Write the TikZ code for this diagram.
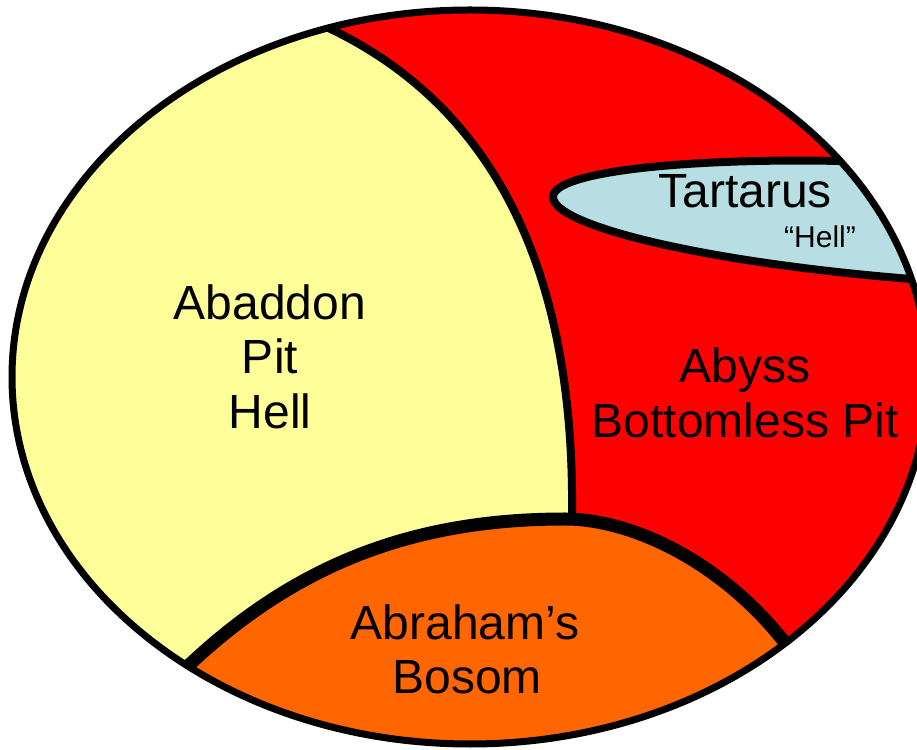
\documentclass[tikz,border=0pt]{standalone}
\usepackage{fontspec}
\setmainfont{Liberation Sans}
\definecolor{abaddonyellow}{HTML}{FFFF99}
\definecolor{abyssred}{HTML}{FF0000}
\definecolor{bosomorange}{HTML}{FF6600}
\definecolor{tartarusblue}{HTML}{B7DEE3}
\begin{document}
\begin{tikzpicture}[x=1pt,y=1pt,
  biglabel/.style={anchor=base,inner sep=0pt,font=\fontsize{48}{55}\selectfont},
  smalllabel/.style={anchor=base,inner sep=0pt,font=\fontsize{30}{34}\selectfont},
  divider/.style={draw=black,line width=8pt},
  bosomline/.style={draw=black,line width=13pt},
  tartline/.style={draw=black,line width=8pt},
  rim/.style={draw=black,line width=7pt}]
\useasboundingbox (0,0) rectangle (917,749);
% key points
\coordinate (ptop) at (328.5,721);
\coordinate (pdiv) at (572,234);
\coordinate (bl) at (188,83);
\coordinate (bpeak) at (565,230);
\coordinate (br) at (785.3,105.8);
\coordinate (ttop) at (840.5,588);
\coordinate (ttip) at (553,552);
\coordinate (tbot) at (911,470);
\begin{scope}
\clip (0,0) rectangle (917,749);
\begin{scope}
\clip (470,372) ellipse [x radius=458, y radius=367];
\fill[abyssred] (-20,-20) rectangle (940,770);
% Abaddon
\fill[abaddonyellow] (298,735) -- (ptop) .. controls (480,649) and (575,499) .. (pdiv)
  -- (572,230) -- (bpeak) .. controls (420,230) and (300,189) .. (bl)
  -- (160,56) -- (-20,56) -- (-20,770) -- (298,770) -- cycle;
% Abraham's Bosom
\fill[bosomorange] (160,56) -- (bl) .. controls (300,189) and (420,230) .. (bpeak)
  .. controls (630,230) and (720,189) .. (br) -- (805,80) -- (805,-20) -- (160,-20) -- cycle;
% Tartarus
\fill[tartarusblue] (870,600) -- (ttop) .. controls (700,591) and (553,579) .. (ttip)
  .. controls (553,524) and (700,487) .. (tbot) -- (940,467) -- (940,600) -- cycle;
% dividing lines
\draw[divider] (ptop) .. controls (480,649) and (575,499) .. (pdiv);
\draw[tartline] (ttop) .. controls (700,591) and (553,579) .. (ttip)
  .. controls (553,524) and (700,487) .. (tbot);
\draw[bosomline] (bl) .. controls (300,189) and (420,230) .. (bpeak)
  .. controls (630,230) and (720,189) .. (br);
\end{scope}
\draw[rim] (470,372) ellipse [x radius=458, y radius=367];
\end{scope}
% labels
\node[biglabel] (abaddon) at (270,429) {Abaddon};
\node[biglabel] (pit) at (270,375) {Pit};
\node[biglabel] (hell) at (270,320) {Hell};
\node[biglabel] (abyss) at (745,366) {Abyss};
\node[biglabel] (bottomless) at (745,311) {Bottomless Pit};
\node[biglabel] (abraham) at (465,109) {Abraham’s};
\node[biglabel] (bosom) at (467,56) {Bosom};
\node[biglabel] (tartarus) at (745,541) {Tartarus};
\node[smalllabel] (quotehell) at (820,501) {“Hell”};
\end{tikzpicture}
\end{document}
